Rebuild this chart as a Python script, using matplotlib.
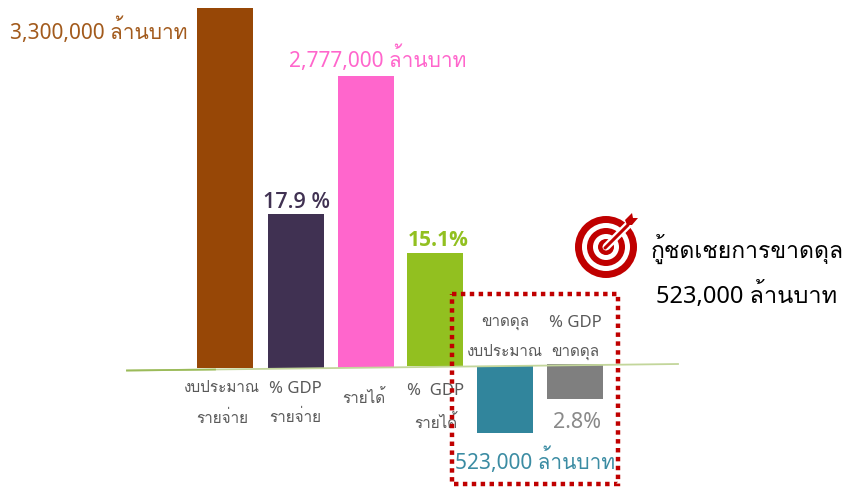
import matplotlib
matplotlib.use('Agg')
import matplotlib.pyplot as plt
from matplotlib.patches import Circle, Rectangle, Polygon

plt.rcParams['font.family'] = ['Noto Sans', 'Loma', 'DejaVu Sans']

categories = [['งบประมาณ', 'รายจ่าย'], ['% GDP', 'รายจ่าย'], ['รายได้'], ['%  GDP', 'รายได้'],
              ['ขาดดุล', 'งบประมาณ'], ['% GDP', 'ขาดดุล']]
value_labels = ['3,300,000 ล้านบาท', '17.9 %', '2,777,000 ล้านบาท', '15.1%', '523,000 ล้านบาท', '2.8%']
bar_heights = [360, 154, 292, 113, -67, -35]   # drawn heights (the source scales each bar by hand)
bar_colors = ['#974706', '#403152', '#FF66CC', '#92C020', '#31859C', '#7F7F7F']
note_lines = ['กู้ชดเชยการขาดดุล', '523,000 ล้านบาท']

bar_left = [197, 268, 338, 407, 477, 547]
bar_base = [368, 368, 368, 366, 366, 364]
bar_width = 55.5

fig = plt.figure(figsize=(8.46, 4.87), dpi=100)
ax = fig.add_axes([0, 0, 1, 1])
ax.set_xlim(0, 846)
ax.set_ylim(487, 0)
ax.axis('off')

ax.bar(bar_left, [-h for h in bar_heights], bottom=bar_base, width=bar_width, align='edge',
       color=bar_colors, linewidth=0, zorder=2)

# baseline, darker at the left end
ax.plot([127, 678], [370.5, 364], color='#C3D69B', lw=1.3, zorder=3)
ax.plot([127, 215], [370.5, 369.5], color='#9BBB59', lw=1.3, zorder=3)

# value labels
heavy = ['Open Sans', 'Loma', 'DejaVu Sans']
ax.text(98.5, 31, value_labels[0], color='#A25A1C', fontsize=15, ha='center', va='center')
ax.text(296.5, 203, value_labels[1], color=bar_colors[1], fontsize=15.5, ha='center', va='center',
        family=heavy, fontweight='semibold')
ax.text(378, 59, value_labels[2], color=bar_colors[2], fontsize=15, ha='center', va='center')
ax.text(438.5, 241, value_labels[3], color=bar_colors[3], fontsize=15, ha='center', va='center',
        family=heavy, fontweight='bold')
ax.text(535, 461, value_labels[4], color='#3B8CA3', fontsize=15, ha='center', va='center')
ax.text(577.5, 423, value_labels[5], color='#8A8A8A', fontsize=15.5, ha='center', va='center')

# category labels
cat_pos = [(222, 389, 419), (295, 389, 418), (364, 399, None), (436, 391, 424), (505, 323, 352), (575, 323, 352)]
for lines, (x, y1, y2) in zip(categories, cat_pos):
    for line, y in zip(lines, (y1, y2)):
        size = 12 if 'GDP' in line else 11
        ax.text(x, y, line, color='#595959', fontsize=size, ha='center', va='center', zorder=5)

# dotted frame
ax.add_patch(Rectangle((452, 294), 166, 190, fill=False, edgecolor='#C00000', lw=3.2,
                       linestyle=(0, (1, 1)), zorder=6))

# target icon
cx, cy, red = 606, 247, '#C00000'
for r, c in [(31, red), (24, 'white'), (19, red), (13, 'white'), (8, red), (3.5, 'white')]:
    ax.add_patch(Circle((cx, cy), r, facecolor=c, edgecolor='none', zorder=4))
ax.plot([cx, 630], [cy, 223], color='white', lw=5.5, solid_capstyle='butt', zorder=5)
ax.plot([cx - 1, 628], [cy + 1, 225], color=red, lw=2.2, solid_capstyle='round', zorder=6)
ax.add_patch(Polygon([(625, 220), (632, 213), (633, 218), (638, 218), (632, 225), (627, 225)],
                     facecolor=red, edgecolor='none', zorder=6))

# note
ax.text(747, 249, note_lines[0], color='black', fontsize=16.5, ha='center', va='center')
ax.text(747, 295, note_lines[1], color='black', fontsize=17, ha='center', va='center')

fig.savefig('out.png', dpi=100)
